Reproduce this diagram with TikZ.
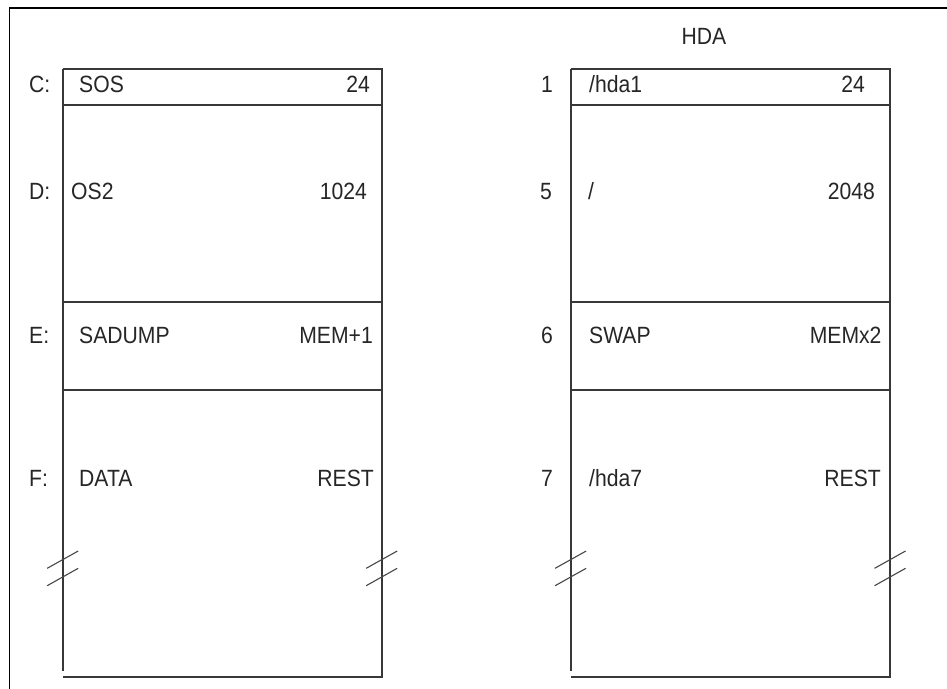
\documentclass[tikz,border=0pt]{standalone}
\usepackage{fontspec}
\setmainfont{Liberation Sans}[FakeStretch=0.9]
\begin{document}
\begin{tikzpicture}[x=1pt,y=-1pt,
  boxline/.style={line width=2pt, draw=black!78},
  frameline/.style={line width=1.6pt, draw=black},
  brk/.style={line width=1.1pt, draw=black!72},
  lbl/.style={inner sep=0pt, font=\fontsize{23.5}{28}\selectfont, text=black!85},
  lw/.style={lbl, anchor=base west},
  le/.style={lbl, anchor=base east}]
\useasboundingbox (0,0) rectangle (947,688);
% outer frame (cut by the page on the right and bottom)
\coordinate (fbl) at (9.3,700);
\coordinate (ftl) at (9.3,8);
\coordinate (ftr) at (960,8);
\draw[frameline] (fbl) -- (ftl) -- (ftr);

% ---------- left box ----------
\coordinate (ltl) at (62.7,69);   \coordinate (ltr) at (381.7,69);
\coordinate (lbl) at (62.7,670.5);\coordinate (lbr) at (381.7,677);
\coordinate (lbb) at (62.7,677);
\coordinate (ls1l) at (62.7,105); \coordinate (ls1r) at (381.7,105);
\coordinate (ls2l) at (62.7,302); \coordinate (ls2r) at (381.7,302);
\coordinate (ls3l) at (62.7,390); \coordinate (ls3r) at (381.7,390);
\draw[boxline] (ltl) -- (ltr) -- (lbr) -- (lbb);
\draw[boxline] (ltl) -- (lbl);
\draw[boxline] (ls1l) -- (ls1r);
\draw[boxline] (ls2l) -- (ls2r);
\draw[boxline] (ls3l) -- (ls3r);

% ---------- right box ----------
\coordinate (rtl) at (570.7,69);  \coordinate (rtr) at (890,69);
\coordinate (rbl) at (570.7,670.5);\coordinate (rbr) at (890,677);
\coordinate (rbb) at (570.7,677);
\coordinate (rs1l) at (570.7,105); \coordinate (rs1r) at (890,105);
\coordinate (rs2l) at (570.7,302); \coordinate (rs2r) at (890,302);
\coordinate (rs3l) at (570.7,390); \coordinate (rs3r) at (890,390);
\draw[boxline] (rtl) -- (rtr) -- (rbr) -- (rbb);
\draw[boxline] (rtl) -- (rbl);
\draw[boxline] (rs1l) -- (rs1r);
\draw[boxline] (rs2l) -- (rs2r);
\draw[boxline] (rs3l) -- (rs3r);

% ---------- break marks ----------
\foreach \cx [count=\i] in {62.7,381.7,570.7,890}{
  \coordinate (b\i a1) at (\cx-15.5,568.3); \coordinate (b\i a2) at (\cx+15.5,551);
  \coordinate (b\i b1) at (\cx-15.5,585.7); \coordinate (b\i b2) at (\cx+15.5,568.3);
  \draw[brk] (b\i a1) -- (b\i a2);
  \draw[brk] (b\i b1) -- (b\i b2);
}

% ---------- left texts ----------
\node[lw] (tc) at (29,92) {C:};
\node[lw] (tsos) at (79,92) {SOS};
\node[le] (t24a) at (370,92) {24};
\node[lw] (td) at (29,199) {D:};
\node[lw] (tos2) at (71,199) {OS2};
\node[le] (t1024) at (367,199) {1024};
\node[lw] (te) at (29,343) {E:};
\node[lw] (tsad) at (79,343) {SADUMP};
\node[le] (tmem1) at (373,343) {MEM+1};
\node[lw] (tf) at (29,486) {F:};
\node[lw] (tdata) at (79,486) {DATA};
\node[le] (trest1) at (374,486) {REST};

% ---------- right texts ----------
\node[lbl, anchor=base] (thda) at (704,44) {HDA};
\node[lw] (t1) at (541,92) {1};
\node[lw] (thda1) at (589,92) {/hda1};
\node[le] (t24b) at (865,92) {24};
\node[lw] (t5) at (540,199) {5};
\node[lw] (tslash) at (588,199) {/};
\node[le] (t2048) at (875,199) {2048};
\node[lw] (t6) at (541,343) {6};
\node[lw] (tswap) at (589,343) {SWAP};
\node[le] (tmemx2) at (881.7,343) {MEMx2};
\node[lw] (t7) at (541,486) {7};
\node[lw] (thda7) at (589,486) {/hda7};
\node[le] (trest2) at (881,486) {REST};
\end{tikzpicture}
\end{document}
